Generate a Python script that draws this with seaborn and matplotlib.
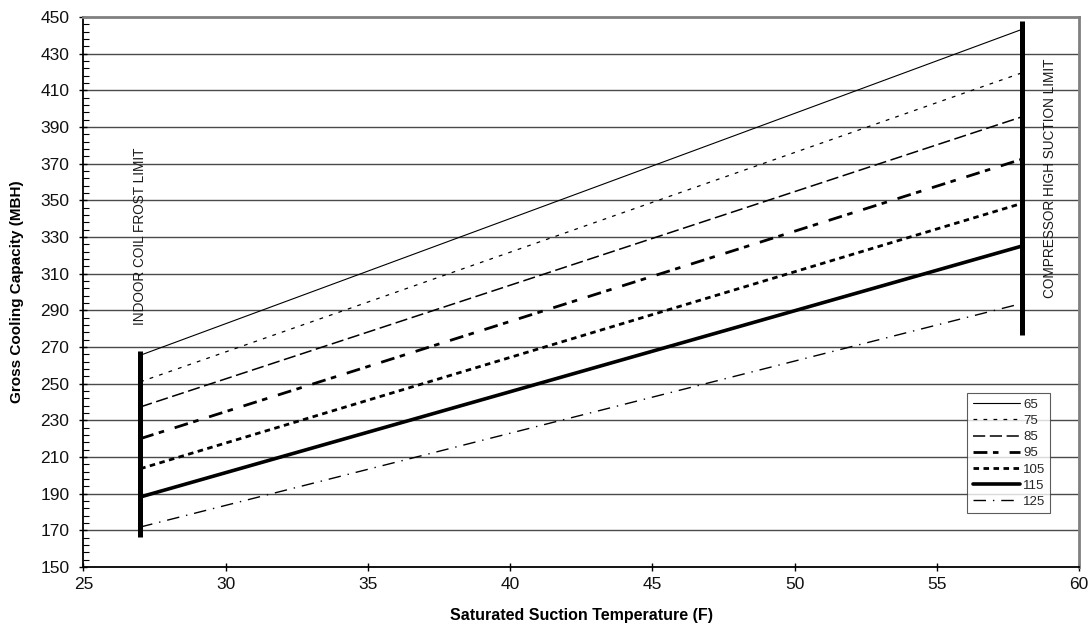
import pandas as pd
import seaborn as sns
import matplotlib.pyplot as plt
from matplotlib.ticker import FixedLocator

sns.set_theme(style="white")
plt.rcParams['font.family'] = ['Liberation Sans', 'DejaVu Sans']

# saturated suction temp (F) at the two limits
temps = [27, 58]
# gross capacity (MBH) per outdoor temp line, read at 27F and 58F
series = ['65', '75', '85', '95', '105', '115', '125']
cap_at_27 = [265.5, 251, 237.3, 220, 203.6, 188.2, 171.8]
cap_at_58 = [443.3, 419.6, 395.6, 372.5, 348.4, 325.1, 293.8]

# limit bars
frost_x = 27
frost_range = [166.5, 268]
suction_x = 58
suction_range = [276.5, 448]

rows = []
for s, a, b in zip(series, cap_at_27, cap_at_58):
    rows.append({'temp': temps[0], 'cap': a, 'line': s})
    rows.append({'temp': temps[1], 'cap': b, 'line': s})
df = pd.DataFrame(rows)

styles = {
    '65':  dict(lw=0.8, ls='-'),
    '75':  dict(lw=0.9, ls=(0, (3, 5))),
    '85':  dict(lw=1.1, ls=(0, (8, 3))),
    '95':  dict(lw=2.0, ls=(0, (5, 2, 2, 4))),
    '105': dict(lw=2.0, ls=(0, (2, 1.6))),
    '115': dict(lw=2.6, ls='-'),
    '125': dict(lw=1.0, ls=(0, (9, 5, 1, 5))),
}

fig = plt.figure(figsize=(10.92, 6.31), dpi=100)
ax = fig.add_axes([0.0763, 0.1014, 0.9118, 0.8716])

for s in series:
    d = df[df['line'] == s]
    sns.lineplot(data=d, x='temp', y='cap', ax=ax, color='black',
                 linewidth=styles[s]['lw'], linestyle=styles[s]['ls'],
                 label=s, legend=False, estimator=None, sort=False)

# limit bars (vertical, so no aggregation)
sns.lineplot(x=[frost_x, frost_x], y=frost_range, ax=ax, color='black', linewidth=3.6,
             legend=False, estimator=None, sort=False, solid_capstyle='butt')
sns.lineplot(x=[suction_x, suction_x], y=suction_range, ax=ax, color='black', linewidth=3.6,
             legend=False, estimator=None, sort=False, solid_capstyle='butt')

ax.text(27, 282, 'INDOOR COIL FROST LIMIT', rotation=90, ha='center', va='bottom',
        fontsize=9.8, color='#1a1a1a')
ax.text(58.97, 297, 'COMPRESSOR HIGH SUCTION LIMIT', rotation=90, ha='center', va='bottom',
        fontsize=9.8, color='#1a1a1a')

ax.set_xlim(25, 60)
ax.set_ylim(150, 450)
ax.xaxis.set_major_locator(FixedLocator(list(range(25, 61, 5))))
ax.yaxis.set_major_locator(FixedLocator(list(range(150, 451, 20))))
ax.yaxis.set_minor_locator(FixedLocator(list(range(150, 451, 4))))

# horizontal grid on 170, 190 ... 430
for yv in range(170, 450, 20):
    ax.axhline(yv, color='#4a4a4a', linewidth=1.0, zorder=0)

ax.tick_params(axis='both', which='major', labelsize=12.5, length=6, direction='inout',
               width=1, color='black')
ax.tick_params(axis='y', which='major', left=True, pad=7)
ax.tick_params(axis='x', which='major', bottom=True, pad=4)
ax.tick_params(axis='y', which='minor', left=True, length=4, direction='in', width=0.8, color='black')
ax.tick_params(axis='x', which='minor', bottom=False)
for lab in ax.get_xticklabels() + ax.get_yticklabels():
    lab.set_color('#111111')

for side in ['left', 'bottom']:
    ax.spines[side].set_color('black')
    ax.spines[side].set_linewidth(1.3)
for side in ['top', 'right']:
    ax.spines[side].set_color('#808080')
    ax.spines[side].set_linewidth(2.0)

ax.set_xlabel('Saturated Suction Temperature (F)', fontsize=11.5, fontweight='bold',
              labelpad=12, color='black')
ax.set_ylabel('Gross Cooling Capacity (MBH)', fontsize=11, fontweight='bold',
              labelpad=12, color='black')

leg = ax.legend(loc='upper left', bbox_to_anchor=(0.888, 0.316), fontsize=9.5,
                frameon=True, fancybox=False, shadow=False, handlelength=3.6,
                handletextpad=0.2, borderpad=0.4, labelspacing=0.3, borderaxespad=0)
leg.get_frame().set_edgecolor('#333333')
leg.get_frame().set_linewidth(0.8)

fig.savefig('out.png', dpi=100)
